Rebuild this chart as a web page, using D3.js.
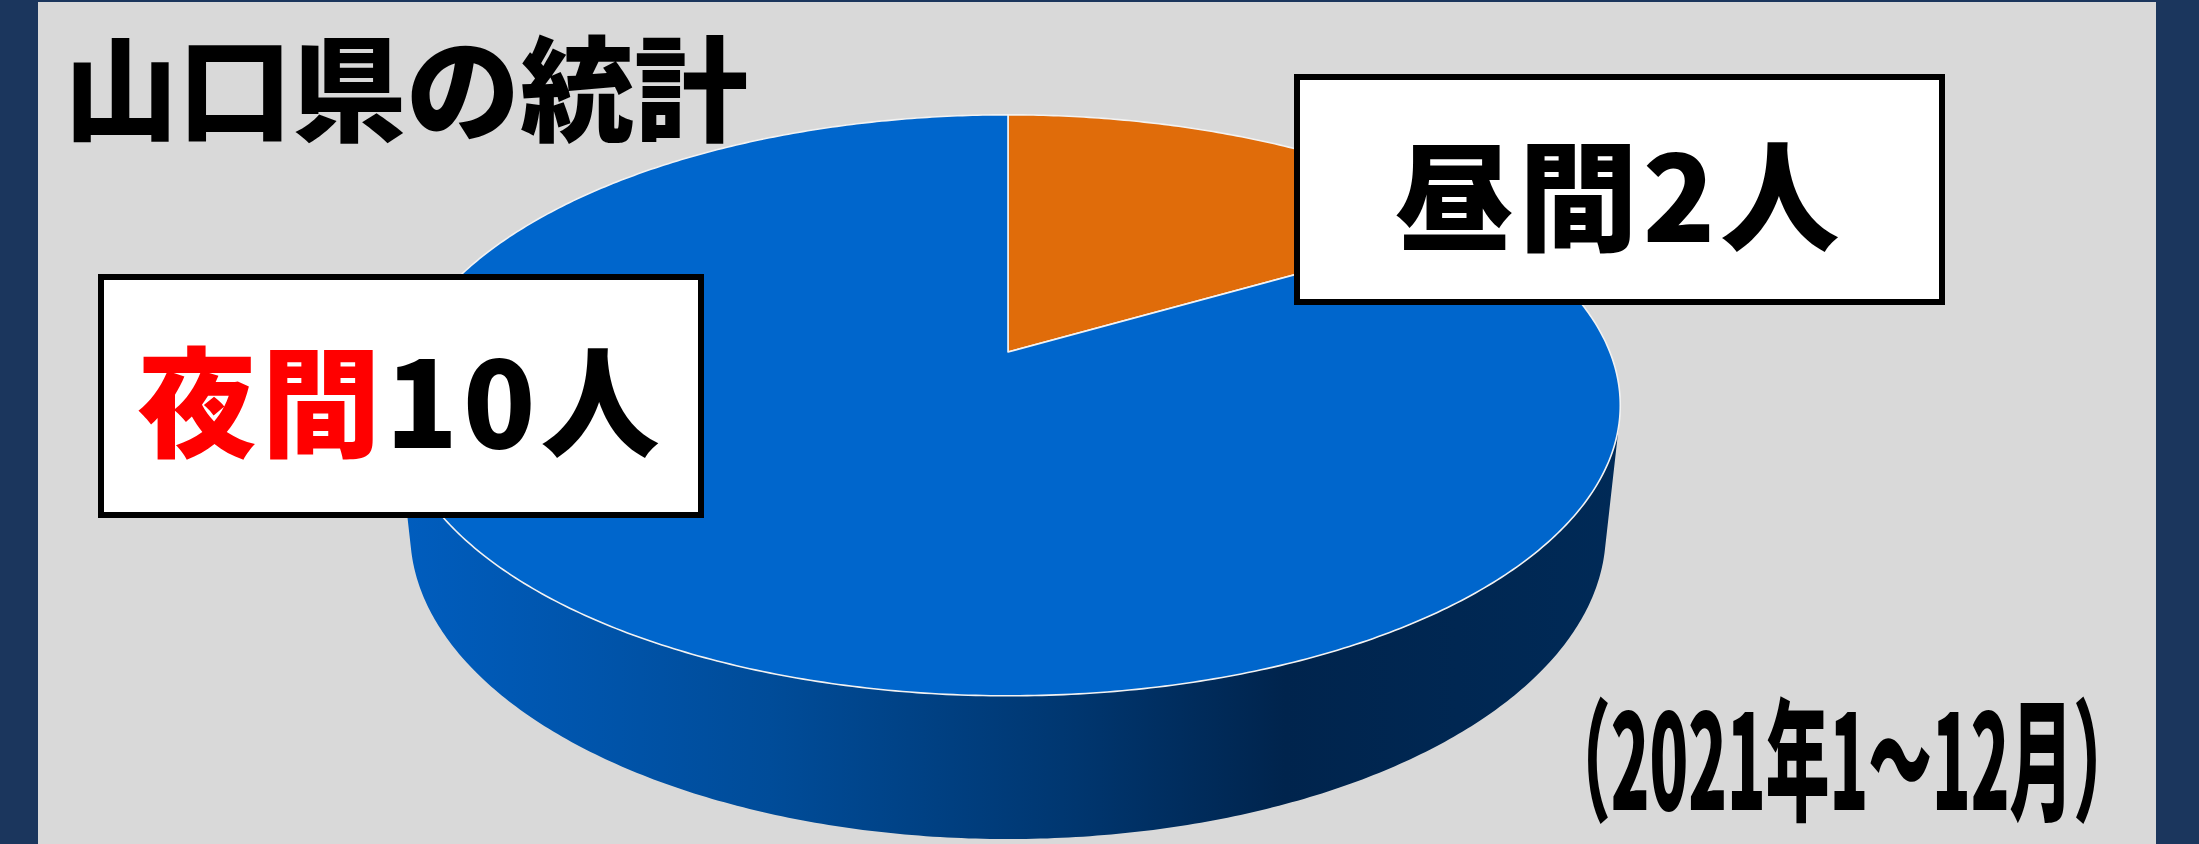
<!DOCTYPE html>
<meta charset="utf-8">
<html lang="ja">
<style>
    body {
        margin: 0;
        background: #1b365d;
    }
    svg text {
        font-family: "Noto Sans CJK JP", sans-serif;
        font-weight: 900;
    }
</style>
<head>
    <script src="https://d3js.org/d3.v7.min.js"></script>
</head>
<body>
<svg width="2199" height="844"></svg>
</body>
<script>

    // data
    var categories = ["昼間", "夜間"];
    var values = [2, 10];
    var unit = "人";
    var titleText = "山口県の統計";
    var periodText = "（2021年1～12月）";

    var W = 2199, H = 844;

    var svg = d3.select("svg");

    // backdrop: navy frame with gray panel
    svg.append("rect").attr("width", W).attr("height", H).style("fill", "#1b365d");
    svg.append("rect")
        .attr("x", 38).attr("y", 2)
        .attr("width", 2156 - 38).attr("height", H)
        .style("fill", "#d9d9d9");

    // 3D pie projection (perspective, camera looking down)
    var cx = 1008, cy = 352,
        f = 2901, D = 4.82,
        sinP = 0.4664, cosP = 0.8846,
        thick = 0.241;

    var radius = d3.scaleLinear().domain([0, 1]).range([0, 1]);

    function project(a, h, r) {
        r = r === undefined ? 1 : radius(r);
        var X = r * Math.sin(a), Z = -r * Math.cos(a), Y = h;
        var depth = D - Z * cosP - Y * sinP;
        return [cx + X * f / depth, cy + (Z * sinP - Y * cosP) * f / depth];
    }

    function arcPoints(a0, a1, h) {
        var n = Math.max(2, Math.ceil(Math.abs(a1 - a0) / 0.01));
        return d3.range(n + 1).map(function (i) {
            return project(a0 + (a1 - a0) * i / n, h);
        });
    }

    var line = d3.line();

    var color = d3.scaleOrdinal()
        .domain(categories)
        .range(["#e06c0a", "#0066cc"]);

    var pie = d3.pie().sort(null).value(function (d) { return d.value; });
    var arcs = pie(categories.map(function (c, i) {
        return {name: c, value: values[i]};
    }));

    // side gradient
    var defs = svg.append("defs");
    var grad = defs.append("linearGradient")
        .attr("id", "side")
        .attr("gradientUnits", "userSpaceOnUse")
        .attr("x1", 402).attr("x2", 1628).attr("y1", 0).attr("y2", 0);
    [[0, "#005dbe"], [0.3, "#004c99"], [0.55, "#00366f"], [0.72, "#00244d"], [1, "#002a57"]]
        .forEach(function (s) {
            grad.append("stop").attr("offset", s[0]).attr("stop-color", s[1]);
        });

    // visible side wall (front half between tangent points)
    var zt = 1 / (D * cosP);
    var aR = Math.acos(-zt), aL = 2 * Math.PI - aR;
    var sidePts = arcPoints(aR, aL, 0).concat(arcPoints(aL, aR, -thick));
    svg.append("path")
        .attr("d", line(sidePts) + "Z")
        .style("fill", "url(#side)");

    // top faces
    svg.selectAll(".slice")
        .data(arcs)
        .enter().append("path")
        .attr("class", "slice")
        .attr("d", function (d) {
            var pts = [project(0, 0, 0)].concat(arcPoints(d.startAngle, d.endAngle, 0));
            return line(pts) + "Z";
        })
        .style("fill", function (d) { return color(d.data.name); })
        .style("stroke", "#f2f2f2")
        .style("stroke-width", 1.6)
        .style("stroke-linejoin", "round");

    // title
    svg.append("text")
        .attr("x", 64).attr("y", 132)
        .style("font-size", "114px")
        .style("fill", "#000")
        .text(titleText);

    // label boxes
    var labelBoxes = [
        {x: 1297, y: 77, w: 645, h: 225, i: 0},
        {x: 101, y: 277, w: 600, h: 238, i: 1}
    ];

    var boxes = svg.selectAll(".lbl")
        .data(labelBoxes)
        .enter().append("g")
        .attr("class", "lbl");

    boxes.append("rect")
        .attr("x", function (d) { return d.x; })
        .attr("y", function (d) { return d.y; })
        .attr("width", function (d) { return d.w; })
        .attr("height", function (d) { return d.h; })
        .style("fill", "#fff")
        .style("stroke", "#000")
        .style("stroke-width", 6);

    var labelText = boxes.append("text")
        .attr("x", function (d) { return d.x + d.w / 2; })
        .attr("y", function (d) { return d.y + d.h / 2 + 52; })
        .attr("text-anchor", "middle")
        .style("font-size", "119px")
        .style("letter-spacing", "5px");

    labelText.append("tspan")
        .style("fill", function (d) { return d.i === 1 ? "#ff0000" : "#000"; })
        .text(function (d) { return categories[d.i]; });
    labelText.append("tspan")
        .style("fill", "#000")
        .text(function (d) { return values[d.i] + unit; });

    // period note
    svg.append("text")
        .attr("x", 1547).attr("y", 810)
        .attr("textLength", 590)
        .attr("lengthAdjust", "spacingAndGlyphs")
        .style("font-size", "132px")
        .style("fill", "#000")
        .text(periodText);

</script>
</html>
